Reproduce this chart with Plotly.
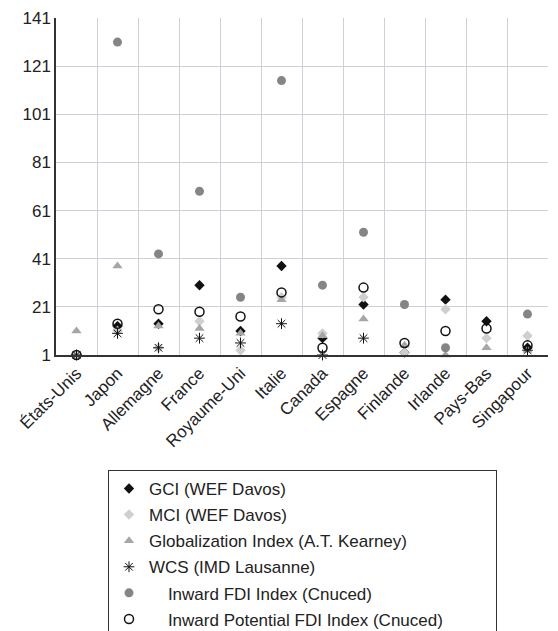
import plotly.graph_objects as go

countries = ["États-Unis", "Japon", "Allemagne", "France", "Royaume-Uni", "Italie",
             "Canada", "Espagne", "Finlande", "Irlande", "Pays-Bas", "Singapour"]

gci = [1, 13, 14, 30, 11, 38, 8, 22, 2, 24, 15, 4]
mci = [1, 11, 4, 15, 3, 25, 10, 25, 2, 20, 8, 9]
glob_index = [11, 38, 13, 12, 10, 24, 9, 16, 5, 1, 4, 3]
wcs = [1, 10, 4, 8, 6, 14, 1, 8, None, None, None, 3]
inward_fdi = [None, 131, 43, 69, 25, 115, 30, 52, 22, 4, None, 18]
inward_potential = [1, 14, 20, 19, 17, 27, 4, 29, 6, 11, 12, 5]

y_ticks = [1, 21, 41, 61, 81, 101, 121, 141]

NB = "\u00a0"
series = [
    ("GCI (WEF Davos)", gci, dict(symbol="diamond", color="#111111", size=8)),
    ("MCI (WEF Davos)", mci, dict(symbol="diamond", color="#cfcfcf", size=8)),
    ("Globalization Index (A.T. Kearney)", glob_index,
     dict(symbol="triangle-up", color="#a6a6a6", size=9)),
    ("WCS (IMD Lausanne)", wcs,
     dict(symbol="asterisk-open", color="#111111", size=9, line=dict(color="#111111", width=1))),
    (NB * 4 + "Inward FDI Index (Cnuced)", inward_fdi,
     dict(symbol="circle", color="#858585", size=9)),
    (NB * 4 + "Inward Potential FDI Index (Cnuced)" + NB * 10, inward_potential,
     dict(symbol="circle-open", color="#111111", size=9, line=dict(color="#111111", width=1.5))),
]

fig = go.Figure()
for i, (name, vals, marker) in enumerate(series):
    fig.add_trace(go.Scatter(
        x=countries, y=vals, mode="markers", name=name, marker=marker,
        cliponaxis=False, legendgroup=f"g{i}",
    ))

fig.update_layout(
    width=550, height=623,
    margin=dict(l=48, r=10, t=10, b=276, autoexpand=False),
    paper_bgcolor="white", plot_bgcolor="white",
    font=dict(family="Liberation Sans, Arial, sans-serif", size=17, color="#222222"),
    showlegend=True,
    legend=dict(
        x=0.1057, y=-0.341, xanchor="left", yanchor="top",
        bordercolor="#333333", borderwidth=1,
        font=dict(size=17, color="#222222"),
        tracegroupgap=1,
        bgcolor="white",
    ),
    xaxis=dict(
        type="category", range=[-0.5, 11.5], tickangle=-45, automargin=False,
        tickson="boundaries", showgrid=True, gridcolor="#cdd0d6", gridwidth=1,
        showline=True, linecolor="#333333", linewidth=1.5,
        ticks="", tickfont=dict(size=17),
    ),
    yaxis=dict(
        range=[1, 141], tickvals=y_ticks, ticktext=[str(v) for v in y_ticks],
        automargin=False,
        showgrid=True, gridcolor="#cdd0d6", gridwidth=1,
        showline=True, linecolor="#333333", linewidth=1.5,
        zeroline=False, ticks="", tickfont=dict(size=17),
    ),
)

fig.write_html("out.html")
